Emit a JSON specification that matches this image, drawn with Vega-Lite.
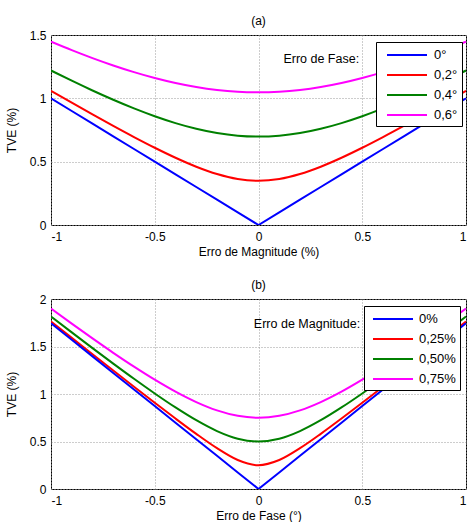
{
  "$schema": "https://vega.github.io/schema/vega-lite/v6.json",
  "background": "white",
  "padding": {"left": 4, "top": 14, "right": 0, "bottom": 0},
  "spacing": 20,
  "config": {
    "font": "Liberation Sans",
    "view": {"stroke": "black", "strokeWidth": 1},
    "axis": {"domain": false, "ticks": false, "grid": true, "gridColor": "#9a9a9a", "gridDash": [1, 2], "gridOpacity": 1, "labelFontSize": 12, "labelColor": "black", "titleFontSize": 12, "titleFontWeight": "normal", "titleColor": "black", "labelFont": "Liberation Sans", "titleFont": "Liberation Sans"},
    "axisY": {"titlePadding": 11, "labelPadding": 5},
    "axisX": {"titlePadding": 4, "labelPadding": 6},
    "title": {"fontSize": 12, "fontWeight": "normal", "offset": 1, "font": "Liberation Sans", "color": "black"},
    "legend": {"orient": "none", "title": null, "strokeColor": "black", "fillColor": "white", "padding": 4, "cornerRadius": 0, "symbolSize": 256, "symbolStrokeWidth": 2, "labelFontSize": 13, "labelColor": "black", "rowPadding": 4, "labelFont": "Liberation Sans"}
  },
  "datasets": {
    "a": [
      {"x": -1, "y": 1, "s": "0°"}, {"x": -0.9, "y": 0.9, "s": "0°"}, {"x": -0.8, "y": 0.8, "s": "0°"}, {"x": -0.7, "y": 0.7, "s": "0°"}, {"x": -0.6, "y": 0.6, "s": "0°"}, {"x": -0.5, "y": 0.5, "s": "0°"}, {"x": -0.4, "y": 0.4, "s": "0°"}, {"x": -0.3, "y": 0.3, "s": "0°"}, {"x": -0.2, "y": 0.2, "s": "0°"}, {"x": -0.1, "y": 0.1, "s": "0°"}, {"x": 0, "y": 0, "s": "0°"}, {"x": 0.1, "y": 0.1, "s": "0°"}, {"x": 0.2, "y": 0.2, "s": "0°"}, {"x": 0.3, "y": 0.3, "s": "0°"}, {"x": 0.4, "y": 0.4, "s": "0°"}, {"x": 0.5, "y": 0.5, "s": "0°"}, {"x": 0.6, "y": 0.6, "s": "0°"}, {"x": 0.7, "y": 0.7, "s": "0°"}, {"x": 0.8, "y": 0.8, "s": "0°"}, {"x": 0.9, "y": 0.9, "s": "0°"}, {"x": 1, "y": 1, "s": "0°"},
      {"x": -1, "y": 1.0592, "s": "0,2°"}, {"x": -0.9, "y": 0.9653, "s": "0,2°"}, {"x": -0.8, "y": 0.8728, "s": "0,2°"}, {"x": -0.7, "y": 0.7822, "s": "0,2°"}, {"x": -0.6, "y": 0.6941, "s": "0,2°"}, {"x": -0.5, "y": 0.6098, "s": "0,2°"}, {"x": -0.4, "y": 0.5309, "s": "0,2°"}, {"x": -0.3, "y": 0.4603, "s": "0,2°"}, {"x": -0.2, "y": 0.4023, "s": "0,2°"}, {"x": -0.1, "y": 0.3631, "s": "0,2°"}, {"x": 0, "y": 0.3491, "s": "0,2°"}, {"x": 0.1, "y": 0.3631, "s": "0,2°"}, {"x": 0.2, "y": 0.4023, "s": "0,2°"}, {"x": 0.3, "y": 0.4603, "s": "0,2°"}, {"x": 0.4, "y": 0.5309, "s": "0,2°"}, {"x": 0.5, "y": 0.6098, "s": "0,2°"}, {"x": 0.6, "y": 0.6941, "s": "0,2°"}, {"x": 0.7, "y": 0.7822, "s": "0,2°"}, {"x": 0.8, "y": 0.8728, "s": "0,2°"}, {"x": 0.9, "y": 0.9653, "s": "0,2°"}, {"x": 1, "y": 1.0592, "s": "0,2°"},
      {"x": -1, "y": 1.2196, "s": "0,4°"}, {"x": -0.9, "y": 1.139, "s": "0,4°"}, {"x": -0.8, "y": 1.0618, "s": "0,4°"}, {"x": -0.7, "y": 0.9886, "s": "0,4°"}, {"x": -0.6, "y": 0.9205, "s": "0,4°"}, {"x": -0.5, "y": 0.8587, "s": "0,4°"}, {"x": -0.4, "y": 0.8046, "s": "0,4°"}, {"x": -0.3, "y": 0.7599, "s": "0,4°"}, {"x": -0.2, "y": 0.7262, "s": "0,4°"}, {"x": -0.1, "y": 0.7053, "s": "0,4°"}, {"x": 0, "y": 0.6981, "s": "0,4°"}, {"x": 0.1, "y": 0.7053, "s": "0,4°"}, {"x": 0.2, "y": 0.7262, "s": "0,4°"}, {"x": 0.3, "y": 0.7599, "s": "0,4°"}, {"x": 0.4, "y": 0.8046, "s": "0,4°"}, {"x": 0.5, "y": 0.8587, "s": "0,4°"}, {"x": 0.6, "y": 0.9205, "s": "0,4°"}, {"x": 0.7, "y": 0.9886, "s": "0,4°"}, {"x": 0.8, "y": 1.0618, "s": "0,4°"}, {"x": 0.9, "y": 1.139, "s": "0,4°"}, {"x": 1, "y": 1.2196, "s": "0,4°"},
      {"x": -1, "y": 1.448, "s": "0,6°"}, {"x": -0.9, "y": 1.3808, "s": "0,6°"}, {"x": -0.8, "y": 1.3178, "s": "0,6°"}, {"x": -0.7, "y": 1.2596, "s": "0,6°"}, {"x": -0.6, "y": 1.2069, "s": "0,6°"}, {"x": -0.5, "y": 1.1604, "s": "0,6°"}, {"x": -0.4, "y": 1.121, "s": "0,6°"}, {"x": -0.3, "y": 1.0893, "s": "0,6°"}, {"x": -0.2, "y": 1.0661, "s": "0,6°"}, {"x": -0.1, "y": 1.052, "s": "0,6°"}, {"x": 0, "y": 1.0472, "s": "0,6°"}, {"x": 0.1, "y": 1.052, "s": "0,6°"}, {"x": 0.2, "y": 1.0661, "s": "0,6°"}, {"x": 0.3, "y": 1.0893, "s": "0,6°"}, {"x": 0.4, "y": 1.121, "s": "0,6°"}, {"x": 0.5, "y": 1.1604, "s": "0,6°"}, {"x": 0.6, "y": 1.2069, "s": "0,6°"}, {"x": 0.7, "y": 1.2596, "s": "0,6°"}, {"x": 0.8, "y": 1.3178, "s": "0,6°"}, {"x": 0.9, "y": 1.3808, "s": "0,6°"}, {"x": 1, "y": 1.448, "s": "0,6°"}
    ],
    "b": [
      {"x": -1, "y": 1.7453, "s": "0%"}, {"x": -0.9, "y": 1.5708, "s": "0%"}, {"x": -0.8, "y": 1.3963, "s": "0%"}, {"x": -0.7, "y": 1.2217, "s": "0%"}, {"x": -0.6, "y": 1.0472, "s": "0%"}, {"x": -0.5, "y": 0.8727, "s": "0%"}, {"x": -0.4, "y": 0.6981, "s": "0%"}, {"x": -0.3, "y": 0.5236, "s": "0%"}, {"x": -0.2, "y": 0.3491, "s": "0%"}, {"x": -0.1, "y": 0.1745, "s": "0%"}, {"x": 0, "y": 0, "s": "0%"}, {"x": 0.1, "y": 0.1745, "s": "0%"}, {"x": 0.2, "y": 0.3491, "s": "0%"}, {"x": 0.3, "y": 0.5236, "s": "0%"}, {"x": 0.4, "y": 0.6981, "s": "0%"}, {"x": 0.5, "y": 0.8727, "s": "0%"}, {"x": 0.6, "y": 1.0472, "s": "0%"}, {"x": 0.7, "y": 1.2217, "s": "0%"}, {"x": 0.8, "y": 1.3963, "s": "0%"}, {"x": 0.9, "y": 1.5708, "s": "0%"}, {"x": 1, "y": 1.7453, "s": "0%"},
      {"x": -1, "y": 1.7631, "s": "0,25%"}, {"x": -0.9, "y": 1.5906, "s": "0,25%"}, {"x": -0.8, "y": 1.4185, "s": "0,25%"}, {"x": -0.7, "y": 1.247, "s": "0,25%"}, {"x": -0.6, "y": 1.0766, "s": "0,25%"}, {"x": -0.5, "y": 0.9078, "s": "0,25%"}, {"x": -0.4, "y": 0.7415, "s": "0,25%"}, {"x": -0.3, "y": 0.5802, "s": "0,25%"}, {"x": -0.2, "y": 0.4294, "s": "0,25%"}, {"x": -0.1, "y": 0.3049, "s": "0,25%"}, {"x": 0, "y": 0.25, "s": "0,25%"}, {"x": 0.1, "y": 0.3049, "s": "0,25%"}, {"x": 0.2, "y": 0.4294, "s": "0,25%"}, {"x": 0.3, "y": 0.5802, "s": "0,25%"}, {"x": 0.4, "y": 0.7415, "s": "0,25%"}, {"x": 0.5, "y": 0.9078, "s": "0,25%"}, {"x": 0.6, "y": 1.0766, "s": "0,25%"}, {"x": 0.7, "y": 1.247, "s": "0,25%"}, {"x": 0.8, "y": 1.4185, "s": "0,25%"}, {"x": 0.9, "y": 1.5906, "s": "0,25%"}, {"x": 1, "y": 1.7631, "s": "0,25%"},
      {"x": -1, "y": 1.8155, "s": "0,50%"}, {"x": -0.9, "y": 1.6485, "s": "0,50%"}, {"x": -0.8, "y": 1.4831, "s": "0,50%"}, {"x": -0.7, "y": 1.3201, "s": "0,50%"}, {"x": -0.6, "y": 1.1604, "s": "0,50%"}, {"x": -0.5, "y": 1.0058, "s": "0,50%"}, {"x": -0.4, "y": 0.8587, "s": "0,50%"}, {"x": -0.3, "y": 0.724, "s": "0,50%"}, {"x": -0.2, "y": 0.6098, "s": "0,50%"}, {"x": -0.1, "y": 0.5296, "s": "0,50%"}, {"x": 0, "y": 0.5, "s": "0,50%"}, {"x": 0.1, "y": 0.5296, "s": "0,50%"}, {"x": 0.2, "y": 0.6098, "s": "0,50%"}, {"x": 0.3, "y": 0.724, "s": "0,50%"}, {"x": 0.4, "y": 0.8587, "s": "0,50%"}, {"x": 0.5, "y": 1.0058, "s": "0,50%"}, {"x": 0.6, "y": 1.1604, "s": "0,50%"}, {"x": 0.7, "y": 1.3201, "s": "0,50%"}, {"x": 0.8, "y": 1.4831, "s": "0,50%"}, {"x": 0.9, "y": 1.6485, "s": "0,50%"}, {"x": 1, "y": 1.8155, "s": "0,50%"},
      {"x": -1, "y": 1.8997, "s": "0,75%"}, {"x": -0.9, "y": 1.7406, "s": "0,75%"}, {"x": -0.8, "y": 1.5849, "s": "0,75%"}, {"x": -0.7, "y": 1.4336, "s": "0,75%"}, {"x": -0.6, "y": 1.2881, "s": "0,75%"}, {"x": -0.5, "y": 1.1507, "s": "0,75%"}, {"x": -0.4, "y": 1.0246, "s": "0,75%"}, {"x": -0.3, "y": 0.9147, "s": "0,75%"}, {"x": -0.2, "y": 0.8273, "s": "0,75%"}, {"x": -0.1, "y": 0.77, "s": "0,75%"}, {"x": 0, "y": 0.75, "s": "0,75%"}, {"x": 0.1, "y": 0.77, "s": "0,75%"}, {"x": 0.2, "y": 0.8273, "s": "0,75%"}, {"x": 0.3, "y": 0.9147, "s": "0,75%"}, {"x": 0.4, "y": 1.0246, "s": "0,75%"}, {"x": 0.5, "y": 1.1507, "s": "0,75%"}, {"x": 0.6, "y": 1.2881, "s": "0,75%"}, {"x": 0.7, "y": 1.4336, "s": "0,75%"}, {"x": 0.8, "y": 1.5849, "s": "0,75%"}, {"x": 0.9, "y": 1.7406, "s": "0,75%"}, {"x": 1, "y": 1.8997, "s": "0,75%"}
    ]
  },
  "resolve": {"scale": {"color": "independent"}, "legend": {"color": "independent"}},
  "vconcat": [
    {
      "title": "(a)",
      "width": 415,
      "height": 190,
      "encoding": {
        "x": {"field": "x", "type": "quantitative", "scale": {"domain": [-1, 1], "nice": false, "zero": false}, "axis": {"title": "Erro de Magnitude (%)", "values": [-1, -0.5, 0, 0.5, 1], "labelExpr": "'' + datum.value"}},
        "y": {"field": "y", "type": "quantitative", "scale": {"domain": [0, 1.5], "nice": false}, "axis": {"title": "TVE (%)", "values": [0, 0.5, 1, 1.5], "labelExpr": "'' + datum.value"}}
      },
      "layer": [
        {
          "data": {"name": "a"},
          "transform": [{"filter": "datum.s != '0°'"}],
          "mark": {"type": "line", "strokeWidth": 2, "clip": true, "interpolate": "monotone"},
          "encoding": {
            "color": {"field": "s", "type": "nominal", "scale": {"domain": ["0°", "0,2°", "0,4°", "0,6°"], "range": ["#0000ff", "#ff0000", "#008000", "#ff00ff"]}, "legend": {"legendX": 325, "legendY": 7, "symbolType": "M-0.25,0H4.75", "labelOffset": 36}}
          }
        },
        {
          "data": {"name": "a"},
          "transform": [{"filter": "datum.s == '0°'"}],
          "mark": {"type": "line", "strokeWidth": 2, "clip": true},
          "encoding": {
            "color": {"field": "s", "type": "nominal"}
          }
        },
        {
          "data": {"values": [{"x": 0.485, "y": 1.31, "t": "Erro de Fase:"}]},
          "mark": {"type": "text", "align": "right", "baseline": "middle", "fontSize": 12.5, "font": "Liberation Sans", "color": "black"},
          "encoding": {
            "text": {"field": "t"}
          }
        }
      ]
    },
    {
      "title": "(b)",
      "width": 415,
      "height": 190,
      "encoding": {
        "x": {"field": "x", "type": "quantitative", "scale": {"domain": [-1, 1], "nice": false, "zero": false}, "axis": {"title": "Erro de Fase (°)", "values": [-1, -0.5, 0, 0.5, 1], "labelExpr": "'' + datum.value"}},
        "y": {"field": "y", "type": "quantitative", "scale": {"domain": [0, 2], "nice": false}, "axis": {"title": "TVE (%)", "values": [0, 0.5, 1, 1.5, 2], "labelExpr": "'' + datum.value"}}
      },
      "layer": [
        {
          "data": {"name": "b"},
          "transform": [{"filter": "datum.s != '0%'"}],
          "mark": {"type": "line", "strokeWidth": 2, "clip": true, "interpolate": "monotone"},
          "encoding": {
            "color": {"field": "s", "type": "nominal", "scale": {"domain": ["0%", "0,25%", "0,50%", "0,75%"], "range": ["#0000ff", "#ff0000", "#008000", "#ff00ff"]}, "legend": {"legendX": 313, "legendY": 7, "symbolType": "M-0.5,0H4.5", "labelOffset": 33}}
          }
        },
        {
          "data": {"name": "b"},
          "transform": [{"filter": "datum.s == '0%'"}],
          "mark": {"type": "line", "strokeWidth": 2, "clip": true},
          "encoding": {
            "color": {"field": "s", "type": "nominal"}
          }
        },
        {
          "data": {"values": [{"x": 0.49, "y": 1.737, "t": "Erro de Magnitude:"}]},
          "mark": {"type": "text", "align": "right", "baseline": "middle", "fontSize": 12.5, "font": "Liberation Sans", "color": "black"},
          "encoding": {
            "text": {"field": "t"}
          }
        }
      ]
    }
  ]
}
